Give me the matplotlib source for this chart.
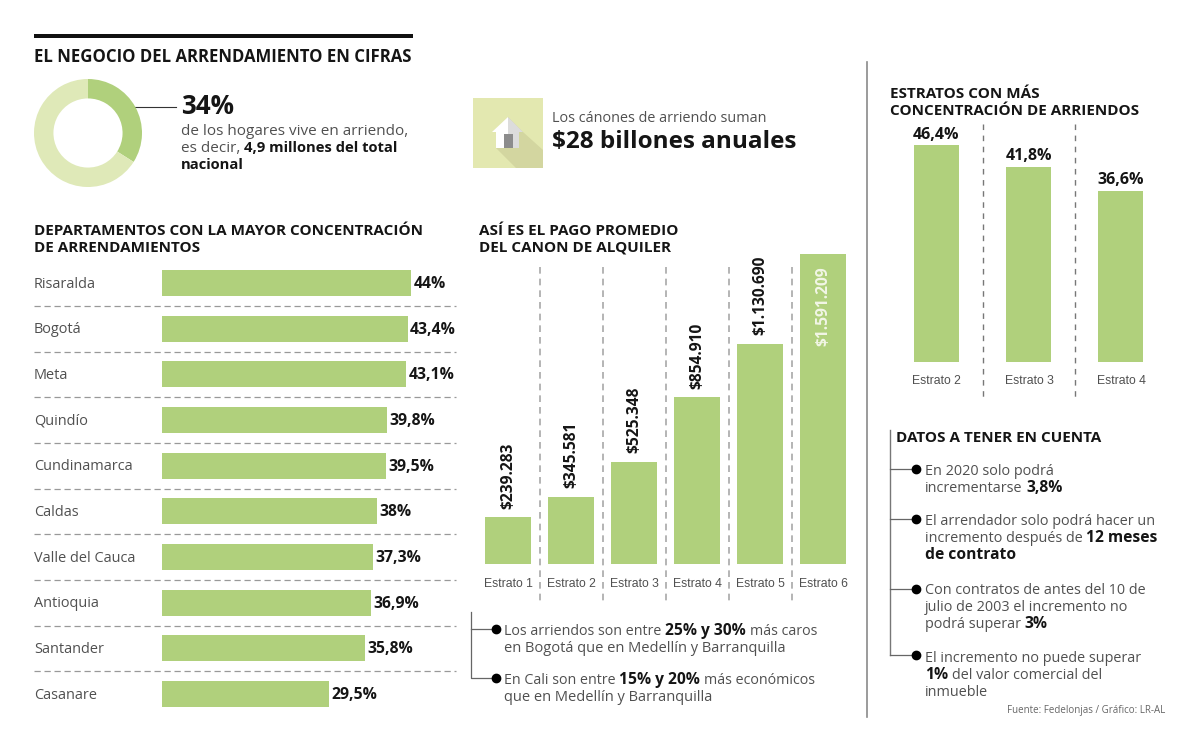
import matplotlib
matplotlib.use('Agg')
import matplotlib.pyplot as plt
from matplotlib.patches import Polygon, Rectangle

plt.rcParams['font.family'] = ['Open Sans', 'DejaVu Sans']
plt.rcParams['text.parse_math'] = False

W, H = 1200, 750
GREEN = '#b0d07c'
PALE = '#dfe9b8'
DARK = '#151515'
GREY = '#505050'
NARROW = ['Liberation Sans', 'DejaVu Sans']

# data
share_rent = [34, 66]

departments = ['Risaralda', 'Bogotá', 'Meta', 'Quindío', 'Cundinamarca', 'Caldas',
               'Valle del Cauca', 'Antioquia', 'Santander', 'Casanare']
dept_values = [44, 43.4, 43.1, 39.8, 39.5, 38, 37.3, 36.9, 35.8, 29.5]
dept_labels = ['44%', '43,4%', '43,1%', '39,8%', '39,5%', '38%', '37,3%', '36,9%', '35,8%', '29,5%']

rent_strata = ['Estrato 1', 'Estrato 2', 'Estrato 3', 'Estrato 4', 'Estrato 5', 'Estrato 6']
rent_values = [239283, 345581, 525348, 854910, 1130690, 1591209]
rent_labels = ['$239.283', '$345.581', '$525.348', '$854.910', '$1.130.690', '$1.591.209']

conc_strata = ['Estrato 2', 'Estrato 3', 'Estrato 4']
conc_values = [46.4, 41.8, 36.6]
conc_labels = ['46,4%', '41,8%', '36,6%']

fig = plt.figure(figsize=(12, 7.5), dpi=100, facecolor='white')
ax = fig.add_axes([0, 0, 1, 1])
ax.set_xlim(0, W)
ax.set_ylim(H, 0)
ax.axis('off')
renderer = fig.canvas.get_renderer()


def px_axes(x0, y0, x1, y1):
    a = fig.add_axes([x0 / W, 1 - y1 / H, (x1 - x0) / W, (y1 - y0) / H])
    a.axis('off')
    a.patch.set_alpha(0)
    return a


def put(x, y, s, px=15, bold=False, color=None, **kw):
    kw.setdefault('va', 'center')
    kw.setdefault('ha', 'left')
    c = color or (DARK if bold else GREY)
    return ax.text(x, y, s, fontsize=px * 0.72, fontweight='bold' if bold else 'normal', color=c, **kw)


def rich(x, y, runs, px=14.2, bold_px=15.6):
    # runs: text pieces joined by a space, bold ones flagged; y is the line middle
    for s, b in runs:
        t = put(x, y + px * 0.36, s, px=bold_px if b else px, bold=b, va='baseline')
        x += t.get_window_extent(renderer).width + px * 0.26


def head(x, y, s, px=15.3):
    put(x, y, s, px=px, bold=True)


# frame lines
ax.add_patch(Rectangle((34, 33.5), 379, 4, color='#111111', lw=0))
ax.plot([867, 867], [62, 717], color='#8a8a8a', lw=1.2)

# donut
dn = px_axes(34, 79, 142, 187)
dn.pie(share_rent, colors=[GREEN, PALE], startangle=90, counterclock=False, radius=1,
       wedgeprops={'width': 0.36, 'lw': 0})
dn.set_xlim(-1, 1)
dn.set_ylim(-1, 1)
ax.plot([122.5, 176], [107, 107], color='#333333', lw=0.8)
ax.plot([122.5], [107], 'o', color='black', ms=6)

head(34, 57, 'EL NEGOCIO DEL ARRENDAMIENTO EN CIFRAS', px=16.8)
put(181, 107, '34%', px=26, bold=True)
rich(181, 129, [('de los hogares vive en arriendo,', False)], px=15.3)
rich(181, 146, [('es decir,', False), ('4,9 millones del total', True)], px=15.3, bold_px=14.7)
rich(181, 163, [('nacional', True)], px=15.3, bold_px=14.7)

# house icon
ax.add_patch(Rectangle((473, 98), 70, 70, color='#e3e8b0', lw=0))
ax.add_patch(Polygon([(496, 148), (516, 168), (543, 168), (543, 150), (523, 132), (508, 117)], color='#d3d6a0', lw=0))
ax.add_patch(Polygon([(508, 117), (492, 132), (496, 132), (496, 148), (508, 148)], color='white', lw=0))
ax.add_patch(Polygon([(508, 117), (523, 132), (519, 132), (519, 148), (508, 148)], color='#dcdcdc', lw=0))
ax.add_patch(Rectangle((504, 134), 9, 14, color='#8c8c8c', lw=0))
put(552, 119, 'Los cánones de arriendo suman', px=14.4)
put(552, 142, '$28 billones anuales', px=24.3, bold=True)

# departments
head(34, 231, 'DEPARTAMENTOS CON LA MAYOR CONCENTRACIÓN')
head(34, 248, 'DE ARRENDAMIENTOS')
row0, step = 283, 45.67
dp = px_axes(162, row0 - step / 2, 411, row0 + step * 9.5)
dp.barh(range(len(departments)), dept_values, height=26 / step, color=GREEN)
dp.set_xlim(0, 44)
dp.set_ylim(len(departments) - 0.5, -0.5)
for i, name in enumerate(departments):
    yy = row0 + i * step
    put(34, yy + 1, name, px=14.5)
    dp.text(dept_values[i] + 0.45, i + 0.02, dept_labels[i], va='center', ha='left', fontsize=15.8 * 0.72,
            fontweight='bold', color=DARK, clip_on=False)
    if i < len(departments) - 1:
        ax.plot([34, 456], [yy + step / 2] * 2, color='#999999', lw=0.9, dashes=(5, 3))

# average rent
head(479, 231, 'ASÍ ES EL PAGO PROMEDIO')
head(479, 248, 'DEL CANON DE ALQUILER')
rn = px_axes(476.5, 254, 854.5, 564)
rn.bar(range(6), rent_values, width=0.73, color=GREEN)
rn.set_xlim(-0.5, 5.5)
rn.set_ylim(0, rent_values[-1])
for i, s in enumerate(rent_strata):
    if i < 5:
        rn.text(i, rent_values[i] + 45000, rent_labels[i], rotation=90, ha='center', va='bottom',
                fontsize=15.5 * 0.72, fontweight='bold', color=DARK, clip_on=False)
    else:
        rn.text(i, rent_values[i] - 65000, rent_labels[i], rotation=90, ha='center', va='top',
                fontsize=15.5 * 0.72, fontweight='bold', color='#f2f6e6')
    xp = 476.5 + (i + 0.5) * 63
    put(xp, 584, s, px=12.3, ha='center', family=NARROW)
    if i < 5:
        ax.plot([xp + 31.5] * 2, [267, 602], color='#a8a8a8', lw=1.2, dashes=(4, 3))

ax.plot([471, 471, 496], [612, 678, 678], color='#666666', lw=0.9)
ax.plot([471, 496], [629, 629], color='#666666', lw=0.9)
ax.plot([496, 496], [629, 678], 'o', color='black', ms=6)
rich(504, 630, [('Los arriendos son entre', False), ('25% y 30%', True), ('más caros', False)])
rich(504, 647, [('en Bogotá que en Medellín y Barranquilla', False)], px=14.6)
rich(504, 679, [('En Cali son entre', False), ('15% y 20%', True), ('más económicos', False)])
rich(504, 696, [('que en Medellín y Barranquilla', False)], px=14.6)

# strata concentration
head(890, 94, 'ESTRATOS CON MÁS')
head(890, 111, 'CONCENTRACIÓN DE ARRIENDOS')
cn = px_axes(890, 145, 1167, 362)
cn.bar(range(3), conc_values, width=0.49, color=GREEN)
cn.set_xlim(-0.5, 2.5)
cn.set_ylim(0, conc_values[0])
for i, s in enumerate(conc_strata):
    cn.text(i, conc_values[i] + 0.5, conc_labels[i], ha='center', va='bottom', fontsize=16 * 0.72,
            fontweight='bold', color=DARK, clip_on=False)
    xp = 890 + (i + 0.5) * 92.33 + 0.5
    put(xp, 381, s, px=12.3, ha='center', family=NARROW)
    if i < 2:
        ax.plot([xp + 46.2] * 2, [124, 400], color='#777777', lw=1, dashes=(4, 4))

# notes
head(896, 438, 'DATOS A TENER EN CUENTA')
note_y = [469, 519, 589, 655]
ax.plot([890, 890], [430, 655], color='#777777', lw=1)
for ny in note_y:
    ax.plot([890, 916], [ny, ny], color='#666666', lw=0.9)
    ax.plot([916], [ny], 'o', color='black', ms=6)
note_lines = [
    (470, [('En 2020 solo podrá', False)]),
    (487, [('incrementarse', False), ('3,8%', True)]),
    (520, [('El arrendador solo podrá hacer un', False)]),
    (537, [('incremento después de', False), ('12 meses', True)]),
    (554, [('de contrato', True)]),
    (589, [('Con contratos de antes del 10 de', False)]),
    (606, [('julio de 2003 el incremento no', False)]),
    (623, [('podrá superar', False), ('3%', True)]),
    (657, [('El incremento no puede superar', False)]),
    (674, [('1%', True), ('del valor comercial del', False)]),
    (691, [('inmueble', False)]),
]
for ly, runs in note_lines:
    rich(925, ly, runs, px=14.4)
put(1165, 711, 'Fuente: Fedelonjas / Gráfico: LR-AL', px=9.8, ha='right', color='#666666')

fig.savefig('out.png', dpi=100)
